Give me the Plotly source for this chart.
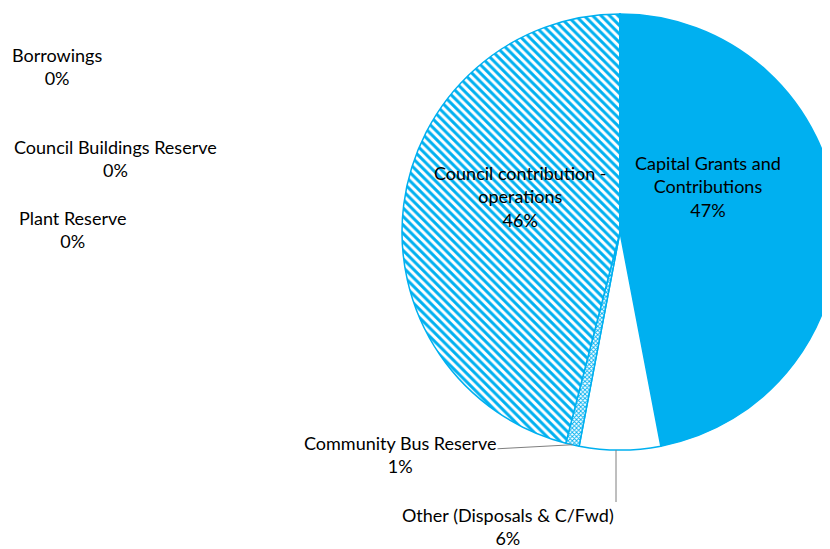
import math
import plotly.graph_objects as go

# ---- data ----
labels = ["Capital Grants and Contributions", "Other (Disposals & C/Fwd)",
          "Community Bus Reserve", "Council contribution - operations",
          "Borrowings", "Council Buildings Reserve", "Plant Reserve"]
label_text = ["Capital Grants and<br>Contributions", "Other (Disposals & C/Fwd)",
              "Community Bus Reserve", "Council contribution -<br>operations",
              "Borrowings", "Council Buildings Reserve", "Plant Reserve"]
values = [47, 6, 1, 46, 0, 0, 0]

W, H = 830, 549
OFF = 8  # page body margin offset
BLUE = "#00B0F0"
FONT = "Lato"
FS = 18

total = sum(values)
pcts = [f"{round(v / total * 100)}%" for v in values]

# pie geometry (figure pixels)
cx, cy, r = 620 - OFF, 232 - OFF, 218

fig = go.Figure()
fig.add_trace(go.Pie(
    labels=labels, values=values, sort=False, direction="clockwise", rotation=0,
    textinfo="none", hoverinfo="label+percent", showlegend=False,
    domain=dict(x=[(cx - r) / W, min(1, (cx + r) / W)], y=[1 - (cy + r) / H, 1 - (cy - r) / H]),
    marker=dict(
        colors=[BLUE, "white", "white", "white", "white", "white", "white"],
        line=dict(color=BLUE, width=1.5),
        pattern=dict(
            shape=["", "", "x", "\\", "", "", ""],
            fgcolor=[BLUE] * 7, bgcolor=["white"] * 7,
            size=[6, 6, 3, 6, 6, 6, 6], solidity=[0.3, 0.3, 0.5, 0.5, 0.3, 0.3, 0.3],
        ),
    ),
))

def px(x, y):
    return (x - OFF) / W, 1 - (y - OFF) / H

mids = []
acc = 0
for v in values:
    mids.append((acc + v / 2) / total * 2 * math.pi)
    acc += v

def edge(i):
    a = mids[i]
    return cx + OFF + r * math.sin(a), cy + OFF - r * math.cos(a)

ann = []
for i, (tx, ty) in {0: (708, 186), 3: (520, 197)}.items():
    x, y = px(tx, ty)
    ann.append(dict(x=x, y=y, text=f"{label_text[i]}<br>{pcts[i]}", showarrow=False,
                    xanchor="center", yanchor="middle"))
for i, (tx, ty) in {4: (57, 67), 5: (115, 158), 6: (73, 229)}.items():
    x, y = px(tx, ty)
    ann.append(dict(x=x, y=y, text=f"{label_text[i]}<br>{pcts[i]}", showarrow=False,
                    xanchor="center", yanchor="middle"))
ex, ey = edge(2)
x, y = px(ex, ey)
ann.append(dict(x=x, y=y, ax=400 - ex, ay=454 - ey, text=f"{label_text[2]}<br>{pcts[2]}",
                showarrow=True, arrowhead=0, arrowwidth=1, arrowcolor="#7f7f7f"))
ex, ey = edge(1)
x, y = px(ex - 4, ey)
ann.append(dict(x=x, y=y, ax=0, ay=502 - ey, text=f"{label_text[1]}<br>{pcts[1]}",
                xanchor="right", yanchor="top",
                showarrow=True, arrowhead=0, arrowwidth=1, arrowcolor="#7f7f7f"))

fig.update_layout(
    width=W, height=H, margin=dict(l=0, r=0, t=0, b=0),
    paper_bgcolor="white", plot_bgcolor="white",
    font=dict(family=FONT, size=FS, color="#000000"),
    annotations=ann,
)
fig.write_html("out.html")
